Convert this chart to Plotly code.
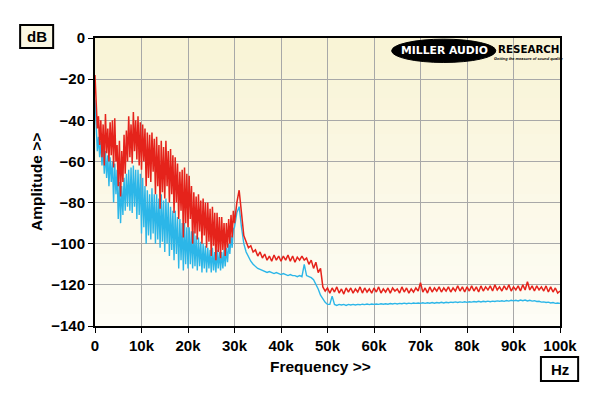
import numpy as np
import plotly.graph_objects as go

# ---------------- data (dB), frequency in kHz ----------------
# Segment A: 0 .. 30 kHz, 0.25 kHz bins
STEP_A = 0.25
red_a = [
    -18, -34, -44, -38,  -52, -40, -58, -42,  -62, -37, -56, -44,
    -60, -41, -57, -40,  -63, -39, -60, -52,  -72, -50, -77, -55,
    -70, -47, -66, -45,  -60, -38, -58, -42,  -61, -36, -55, -40,
    -59, -38, -62, -41,  -64, -42, -60, -44,  -72, -46, -68, -47,
    -70, -46, -65, -49,  -76, -48, -72, -52,  -83, -50, -75, -53,
    -78, -50, -72, -55,  -80, -54, -76, -57,  -85, -58, -80, -61,
    -88, -65, -84, -64,  -97, -63, -90, -66,  -92, -67, -88, -72,
    -100, -75, -95, -77, -98, -76, -94, -79,  -100, -78, -96, -80,
    -102, -80, -99, -83, -106, -82, -101, -85, -108, -85, -104, -87,
    -107, -87, -103, -90, -106, -90, -102, -88, -100, -86, -97, -84,
    -90,
]
cyan_a = [
    -30, -42, -55, -48,  -58, -50, -62, -53,  -66, -55, -68, -57,
    -72, -58, -70, -60,  -80, -61, -76, -64,  -88, -70, -90, -72,
    -86, -68, -84, -66,  -82, -64, -84, -63,  -85, -62, -82, -64,
    -88, -64, -86, -66,  -95, -68, -92, -72,  -100, -74, -96, -76,
    -98, -73, -95, -76,  -100, -76, -98, -78, -102, -76, -99, -79,
    -104, -78, -100, -80, -106, -82, -103, -84, -108, -84, -105, -87,
    -112, -88, -108, -90, -113, -90, -110, -92, -112, -92, -110, -94,
    -112, -94, -111, -96, -113, -97, -111, -99, -114, -100, -112, -101,
    -114, -102, -112, -103, -114, -102, -113, -104, -114, -103, -112, -104,
    -113, -104, -112, -103, -111, -102, -109, -100, -105, -96, -102, -93,
    -92,
]

# Segment B: 30.5 .. 100 kHz, 0.5 kHz bins
START_B = 30.5
STEP_B = 0.5
red_b = [
    -80, -74, -85, -96, -99, -102, -101, -104, -103, -106,
    -104, -107, -105, -108, -106, -108.5, -105.5, -108, -106, -108.5,
    -106, -108, -105.5, -108.5, -106, -109, -106.5, -108, -106, -108,
    -107, -110, -108, -112, -109, -114, -112, -121, -123, -121.5,
    -124, -121.5, -123.5, -121, -124, -122, -124.5, -121.5, -123.5, -121.5,
    -124, -122, -123.5, -121, -124, -121.5, -123.5, -122, -124, -121.5,
    -123.5, -121, -124, -122, -123.5, -121.5, -124, -121.5, -123, -122,
    -124, -121, -123.5, -121.5, -124, -122, -123.5, -121.5, -123, -119,
    -123.5, -121.5, -124, -121, -123.5, -121.5, -123, -121, -123.5, -121.5,
    -123, -121, -123.5, -121.5, -123, -120.5, -123, -121, -123.5, -121,
    -123, -120.5, -123, -121, -123.5, -120.5, -123, -121, -122.5, -120.5,
    -123, -120, -122.5, -121, -123, -120.5, -122.5, -120, -123, -121,
    -122.5, -120.5, -123, -120, -122.5, -118.5, -122.5, -120.5, -123, -120.5,
    -122.5, -121, -123, -120.5, -123.5, -121, -123.5, -121.5, -124, -123,
]
cyan_b = [
    -85, -82, -92, -100, -104, -106.5, -108.5, -110, -111, -112,
    -112.5, -113, -113.5, -114, -113.5, -114, -114.5, -114, -114.5, -115,
    -114.5, -115, -115.5, -115, -115.5, -115.5, -116, -115.5, -116, -110,
    -115.5, -116, -116.5, -117.5, -119.5, -122, -125, -127, -128.5, -129.5,
    -129.5, -125.5, -129.5, -130, -129.5, -129.8, -129.5, -130, -129.5, -129.8,
    -129.5, -129.8, -129.5, -129.7, -129.4, -129.6, -129.3, -129.6, -129.3, -129.5,
    -129.3, -129.5, -129.2, -129.4, -129.2, -129.4, -129.1, -129.3, -129, -129.3,
    -129, -129.2, -128.9, -129.2, -128.9, -129.1, -128.8, -129, -128.8, -129,
    -128.7, -129, -128.7, -128.9, -128.6, -128.9, -128.6, -128.8, -128.5, -128.8,
    -128.5, -128.7, -128.4, -128.6, -128.3, -128.6, -128.3, -128.5, -128.2, -128.5,
    -128.2, -128.4, -128.1, -128.3, -128, -128.3, -128, -128.2, -127.9, -128.2,
    -127.9, -128.1, -127.8, -128, -127.7, -128, -127.6, -127.9, -127.5, -127.8,
    -127.5, -127.8, -127.4, -127.7, -127.4, -127.8, -127.5, -127.9, -127.7, -128.1,
    -128, -128.4, -128.3, -128.6, -128.4, -128.8, -128.6, -129, -128.8, -129,
]

x_tickvals = [0, 10, 20, 30, 40, 50, 60, 70, 80, 90, 100]
x_ticktext = ["0", "10k", "20k", "30k", "40k", "50k", "60k", "70k", "80k", "90k", "100k"]
y_tickvals = [0, -20, -40, -60, -80, -100, -120, -140]

# ---------------- build ----------------
def freqs(n_a, n_b):
    fa = [STEP_A * i for i in range(n_a)]
    fb = [START_B + STEP_B * i for i in range(n_b)]
    return fa + fb

red_f = freqs(len(red_a), len(red_b))
cyan_f = freqs(len(cyan_a), len(cyan_b))

RED = "#E5231B"
CYAN = "#2CB6E8"
FONT = "Liberation Sans, Arial, sans-serif"
LOGO_FONT = "DejaVu Sans, Liberation Sans, sans-serif"

fig = go.Figure()
fig.add_trace(go.Scatter(x=cyan_f, y=cyan_a + cyan_b, mode="lines",
                         line=dict(color=CYAN, width=1.4), hoverinfo="skip"))
fig.add_trace(go.Scatter(x=red_f, y=red_a + red_b, mode="lines",
                         line=dict(color=RED, width=1.5), hoverinfo="skip"))

# cream gradient background of plot area
shapes = []
N = 24
c0 = np.array([249, 244, 214])
c1 = np.array([254, 253, 246])
for i in range(N):
    t = i / (N - 1)
    c = (c0 * (1 - t) + c1 * t).astype(int)
    shapes.append(dict(type="rect", xref="x domain", yref="y domain",
                       x0=0, x1=1, y0=1 - (i + 1) / N, y1=1 - i / N,
                       fillcolor=f"rgb({c[0]},{c[1]},{c[2]})", line=dict(width=0),
                       layer="below"))
# logo ellipse
shapes.append(dict(type="circle", xref="paper", yref="paper",
                   x0=0.638, x1=0.862, y0=0.915, y1=0.996,
                   fillcolor="black", line=dict(color="black", width=1), layer="above"))
# unit boxes
shapes.append(dict(type="rect", xref="paper", yref="paper",
                   x0=-0.161, x1=-0.090, y0=0.965, y1=1.045,
                   fillcolor="#FBF8E4", line=dict(color="black", width=2)))
shapes.append(dict(type="rect", xref="paper", yref="paper",
                   x0=0.959, x1=1.039, y0=-0.191, y1=-0.108,
                   fillcolor="#FFFFFF", line=dict(color="black", width=2)))

def ann(text, x, y, size, color="black", angle=0, family=FONT):
    return dict(text=text, x=x, y=y, xref="paper", yref="paper",
                xanchor="center", yanchor="middle", textangle=angle,
                showarrow=False, font=dict(family=family, size=size, color=color))

annotations = [
    ann("<b>dB</b>", -0.1255, 1.005, 15),
    ann("<b>Hz</b>", 0.999, -0.1495, 15),
    ann("<b>Amplitude >></b>", -0.127, 0.5, 15.5, angle=-90),
    ann("<b>Frequency >></b>", 0.484, -0.139, 15.5),
    ann("<b>MILLER AUDIO</b>", 0.751, 0.957, 10.8, color="white", family=LOGO_FONT),
    ann("<b>RESEARCH</b>", 0.933, 0.962, 10.3, family=LOGO_FONT),
    ann("<b><i>Getting the measure of sound quality</i></b>", 0.933, 0.928, 3.9),
]

axis_common = dict(showgrid=True, gridcolor="#A8A8A8", gridwidth=1,
                   showline=True, linecolor="black", linewidth=2, mirror=True,
                   ticks="outside", ticklen=5, tickcolor="black", tickwidth=1,
                   zeroline=False,
                   tickfont=dict(family=FONT, size=15, color="black", weight="bold"))

fig.update_layout(
    width=600, height=396,
    margin=dict(l=95, r=40, t=38, b=70),
    paper_bgcolor="white",
    plot_bgcolor="rgba(0,0,0,0)",
    showlegend=False,
    shapes=shapes,
    annotations=annotations,
    xaxis=dict(range=[0, 100], tickvals=x_tickvals, ticktext=x_ticktext, **axis_common),
    yaxis=dict(range=[-140, 0], tickvals=y_tickvals, **axis_common),
)

fig.write_html("out.html", config={"displayModeBar": False},
               post_script="document.body.style.margin='0';")
